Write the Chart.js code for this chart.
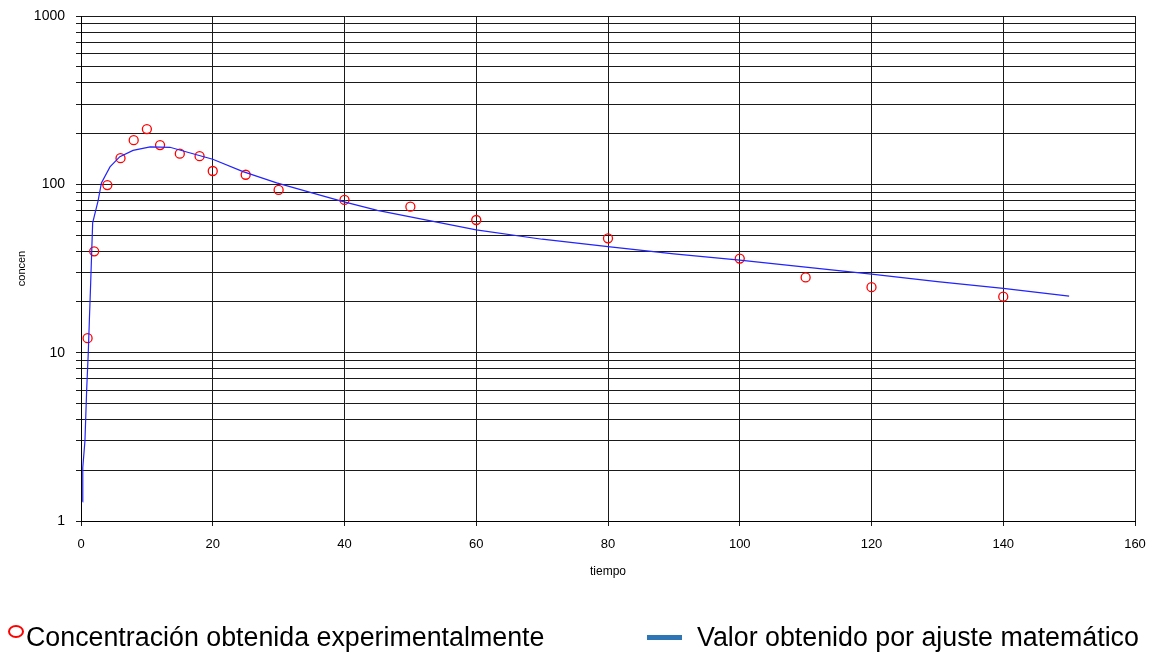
<!DOCTYPE html>
<html>
<head>
<meta charset="utf-8">
<script src="https://cdn.jsdelivr.net/npm/chart.js@4/dist/chart.umd.min.js"></script>
<style>
    html, body { margin: 0; padding: 0; background: #ffffff; }
    #wrap { position: relative; width: 1153px; height: 654px; overflow: hidden; }
    #chart { position: absolute; left: 0; top: 0; }
    .legend-text {
        position: absolute;
        font-family: 'Liberation Sans', Arial, sans-serif;
        font-size: 26.8px;
        color: #000;
        white-space: nowrap;
        line-height: 1;
    }
    #mark-circle {
        position: absolute;
        left: 8px; top: 625px;
        width: 12px; height: 9px;
        border: 2.5px solid #ff0000;
        border-radius: 50%;
    }
    #mark-line {
        position: absolute;
        left: 647px; top: 635px;
        width: 35px; height: 5px;
        background: #2e75b6;
    }
</style>
</head>
<body>
<div id="wrap">
    <canvas id="chart" width="1153" height="654"></canvas>
    <div id="mark-circle"></div>
    <span class="legend-text" style="left:26px; top:624px;">Concentración obtenida experimentalmente</span>
    <div id="mark-line"></div>
    <span class="legend-text" style="left:697px; top:624px;">Valor obtenido por ajuste matemático</span>
</div>
<script>
// Experimental points (tiempo, concen)
const expTime = [1, 2, 4, 6, 8, 10, 12, 15, 18, 20, 25, 30, 40, 50, 60, 80, 100, 110, 120, 140];
const expConc = [12.2, 40, 99, 143, 183, 213, 171, 152, 147, 120, 114, 92.6, 80.8, 73.7, 61.4, 47.8, 36.2, 28.0, 24.5, 21.5];

// Fitted curve
const fitTime = [0.25, 0.27, 0.6, 0.86, 1.1, 1.27, 1.47, 1.77, 2.6, 3.1, 4.4, 5.9, 7.9, 10.5, 13.5, 17, 20, 24.6, 29.7, 34.8, 39.8, 45, 50, 60, 70, 80, 90, 100, 110, 120, 130, 140, 150];
const fitConc = [1.3, 2.07, 3.0, 6.0, 9.9, 15.6, 26, 59, 80, 102, 127, 146, 159, 167, 166, 152, 141, 119, 102, 89.5, 79, 70, 64, 53.6, 47.2, 42.7, 38.6, 35.5, 32.2, 29.3, 26.4, 24.1, 21.7];

// Axis ticks
const xTicks = [0, 20, 40, 60, 80, 100, 120, 140, 160];
const yTicks = [1, 2, 3, 4, 5, 6, 7, 8, 9, 10, 20, 30, 40, 50, 60, 70, 80, 90, 100, 200, 300, 400, 500, 600, 700, 800, 900, 1000];
const yLabels = [1, 10, 100, 1000];

const expPoints = expTime.map((t, i) => ({ x: t, y: expConc[i] }));
const fitPoints = fitTime.map((t, i) => ({ x: t, y: fitConc[i] }));

const gridColor = '#1a1a1a';

// let the layout padding alone decide where the plot box sits
function clearScalePadding(scale) {
    scale.paddingLeft = 0;
    scale.paddingRight = 0;
    scale.paddingTop = 0;
    scale.paddingBottom = 0;
}

let ctx = document.getElementById('chart').getContext('2d');
let chart = new Chart(ctx, {
    type: 'scatter',
    data: {
        datasets: [
            {
                label: 'Valor obtenido por ajuste matemático',
                type: 'line',
                data: fitPoints,
                borderColor: '#2222ff',
                borderWidth: 1.2,
                pointRadius: 0,
                tension: 0,
                fill: false,
            },
            {
                label: 'Concentración obtenida experimentalmente',
                data: expPoints,
                borderColor: '#ff0000',
                backgroundColor: 'rgba(0,0,0,0)',
                borderWidth: 1.3,
                pointRadius: 4.5,
            },
        ],
    },
    options: {
        responsive: false,
        animation: false,
        layout: {
            padding: { left: 0, right: 18, top: 16, bottom: 60 },
        },
        plugins: {
            legend: { display: false },
            tooltip: { enabled: false },
        },
        scales: {
            x: {
                type: 'linear',
                min: 0,
                max: 160,
                afterBuildTicks: (scale) => {
                    scale.ticks = xTicks.map(v => ({ value: v }));
                },
                afterFit: (scale) => {
                    scale.height = 73;
                    clearScalePadding(scale);
                },
                ticks: {
                    autoSkip: false,
                    maxRotation: 0,
                    padding: 11,
                    color: '#000',
                    font: { family: "'Liberation Sans', Arial", size: 13 },
                },
                grid: {
                    color: gridColor,
                    lineWidth: 1,
                    tickLength: 5,
                    tickColor: gridColor,
                },
                border: { color: '#000', width: 1 },
                title: {
                    display: true,
                    text: 'tiempo',
                    color: '#000',
                    padding: { top: 0, bottom: 15 },
                    font: { family: "'Liberation Sans', Arial", size: 12 },
                },
            },
            y: {
                type: 'logarithmic',
                min: 1,
                max: 1000,
                afterBuildTicks: (scale) => {
                    scale.ticks = yTicks.map(v => ({ value: v, major: yLabels.includes(v) }));
                },
                afterFit: (scale) => {
                    scale.width = 81;
                    clearScalePadding(scale);
                },
                ticks: {
                    autoSkip: false,
                    padding: 11,
                    color: '#000',
                    font: { family: "'Liberation Sans', Arial", size: 14 },
                    callback: (value) => yLabels.includes(value) ? String(value) : '',
                },
                grid: {
                    color: gridColor,
                    lineWidth: 1,
                    tickLength: 5,
                    tickColor: gridColor,
                },
                border: { color: '#000', width: 1 },
                title: {
                    display: true,
                    text: 'concen',
                    color: '#000',
                    padding: { top: 15, bottom: 0 },
                    font: { family: "'Liberation Sans', Arial", size: 11 },
                },
            },
        },
    },
});
</script>
</body>
</html>
